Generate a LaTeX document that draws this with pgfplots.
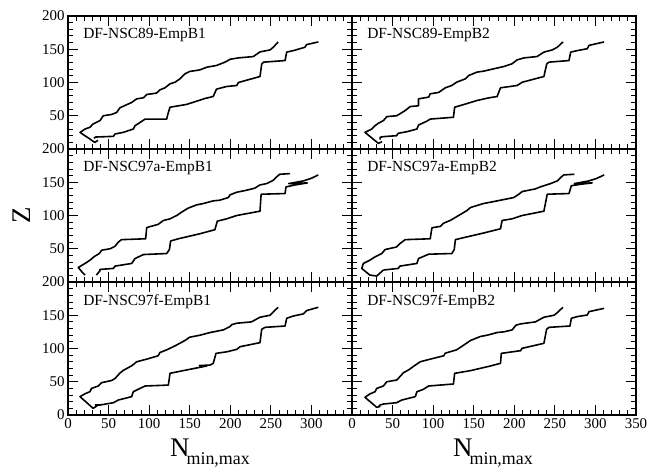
\documentclass[border=0pt]{standalone}
\usepackage{fontspec}
\setmainfont{Liberation Serif}
\usepackage{pgfplots}
\pgfplotsset{compat=1.18}
\pgfplotsset{panel/.style={
  scale only axis, width=284bp, height=133bp,
  xmin=0, xmax=350, ymin=0, ymax=200,
  xtick={0,50,...,350}, ytick={0,50,...,200},
  minor x tick num=4, minor y tick num=4,
  tick align=inside, major tick length=10bp, minor tick length=5bp,
  axis line style={line width=1.2pt},
  every tick/.style={black, line width=0.9pt},
  xticklabels={}, yticklabels={},
  ticklabel style={font=\fontsize{15}{15}\selectfont},
  /pgf/number format/assume math mode=true,
  cycle list={black},
  every axis plot/.append style={line width=1.6pt, no marks, line join=round},
  anchor=south west,
}}
\newcommand{\plabel}[1]{\node[anchor=west, inner sep=0pt, font=\fontsize{15.5}{16}\selectfont] at (rel axis cs:0.053,0.855) {#1};}
\newcommand{\nlab}{{\fontsize{27}{27}\selectfont N}\hspace{-3bp}\raisebox{-8bp}{\fontsize{18}{18}\selectfont min,max}}
\begin{document}
\begin{tikzpicture}
\path[use as bounding box] (0,0) rectangle (665bp,467bp);
% ---------- top left
\begin{axis}[panel, at={(68bp,318bp)}, yticklabels={{},50,100,150,200}]
\addplot coordinates {(259,161)(253,153)(249,149)(236.6,146)(228.4,139)(210,137)(200,135)(193.5,130.6)(183,125.6)(171,123)(162.7,119)(150,116.6)(144,113)(138,105.5)(132,100.5)(125.7,98)(119.5,92)(113.4,89)(109,84)(97,82)(93,77)(84.6,75.4)(78.5,70)(64,62)(60,55)(54,52)(43.5,50)(39.4,42.7)(35,40)(31,37.7)(27,32.7)(21,30)(14.8,25)(33,10)(37,13)};
\addplot coordinates {(32,16)(34,18)(56,19)(58,22.6)(68,25)(80.5,30)(82.6,35)(89,40)(95,45)(121.6,45)(123,52)(125.7,62.8)(146,67)(169,76)(179,79)(183,90)(195.5,94)(208,95.5)(210,100)(236.6,109)(238.8,128)(241,130.6)(267.5,133)(269.5,145.7)(278,148)(292,153)(294,157)(308.5,161)};
\plabel{DF-NSC89-EmpB1}
\end{axis}
% ---------- top right
\begin{axis}[panel, at={(352bp,318bp)}]
\addplot coordinates {(260,161)(253,153)(246.8,149)(236.5,145.7)(228,139)(212,137)(203.5,134)(197,128)(187,124)(174.7,120.6)(162,117)(154,115.6)(144,110.6)(139.7,105.5)(129,100.5)(123,95.5)(115,92)(106.7,85)(96.4,83)(94.4,78)(82,75.4)(82,65)(71.7,63.8)(65.5,57.8)(59,52.8)(55,50)(43,48.7)(38.7,42.7)(32.5,38.7)(28.4,35)(24.3,30)(16,25)(32.5,8.5)(37,11)};
\addplot coordinates {(34.6,14)(34.6,17.6)(38.7,18.6)(55,20)(57,23.6)(67.6,26)(80,30)(82,36)(92,41.7)(96.4,45)(125,47.7)(126.5,62.8)(137.6,66.8)(154,72.9)(168.5,76.9)(178.8,78.9)(183,92)(203.5,95.5)(210,100.5)(236.5,109)(240,128)(242.7,130.6)(267.4,133)(269.5,145.7)(277.7,148)(290,150.8)(292,155.8)(310.7,161)};
\plabel{DF-NSC89-EmpB2}
\end{axis}
% ---------- middle left
\begin{axis}[panel, at={(68bp,185bp)}, yticklabels={{},50,100,150,200}]
\addplot coordinates {(273.6,163)(261,162)(257,158)(253,153)(245,148)(236.6,146)(230,141)(220,138)(208,135)(199.6,131)(197.6,127)(187,123)(179,122)(166.8,118)(158.6,116)(148,111)(140,105)(134,100)(125.7,95)(117.5,92.5)(111,86.6)(99,82.6)(97,81.6)(95.7,65)(66,63.7)(62,60)(58,53.7)(51.8,50)(41.5,47.8)(38.6,42.8)(33,38.8)(27,32.8)(21,27.9)(12.7,21.9)(17,15.4)(21,10.4)};
\addplot coordinates {(35,10.4)(39.4,17)(39.4,18.9)(56,20.4)(58,23.9)(78.5,27.9)(82.6,35.3)(93,41.3)(121.6,42.8)(125,48.8)(126.5,61.7)(136,65)(162.7,72.6)(181,78.6)(184,91.5)(195.6,95)(208,100)(236.6,106.5)(238,132)(267.5,133)(268.7,143)(280,146)(295,149)(272,148)(290,152)(300,156)(308.5,161)};
\plabel{DF-NSC97a-EmpB1}
\end{axis}
% ---------- middle right
\begin{axis}[panel, at={(352bp,185bp)}]
\addplot coordinates {(274,162)(261,161)(257,157)(253,152)(244.7,148)(232,143)(226,140)(209.7,136)(205.6,132)(199.4,127)(183,123)(170.6,120)(162,118)(146,112)(141.7,107.5)(131.4,100)(121,92.5)(113,88.5)(108.8,83.6)(98.5,81.6)(96.4,65)(65.5,63.7)(59,57.7)(55,52.7)(40.8,48.8)(36.7,42.8)(28.4,37.8)(22,32.8)(14,27.9)(12,20.4)(22,10.4)(30.5,9)(38.7,18)};
\addplot coordinates {(38.7,18)(57,20.4)(59,23.9)(80,27.9)(82,35.3)(94.4,41.8)(123,42.8)(126,48.8)(127.4,63.7)(137.6,66.7)(162,73.6)(183,80)(185,92.5)(197.4,95)(209.7,100)(236.5,106.5)(240.6,132)(267.4,133)(270.3,144.8)(282,147)(296,149)(274,148)(292,152)(302,156)(310.7,161)};
\plabel{DF-NSC97a-EmpB2}
\end{axis}
% ---------- bottom left
\begin{axis}[panel, at={(68bp,52bp)}, yticklabels={0,50,100,150,200}, xticklabels={0,50,100,150,200,250,300,{}}]
\addplot coordinates {(259,162)(253,155)(249,150)(236.6,147)(226,140)(208,138)(202,136)(199.7,133)(191.5,128)(175,124)(162.7,120)(150,117)(144,112)(132,104)(121.6,98)(113.4,94)(111,89)(97,84)(84.6,80)(78.5,74)(68,67)(64,63)(58,55)(54,52)(41.5,48.6)(37.4,43.6)(29,40)(27,35)(21,32)(14.8,27.6)(31,10)(36,14)};
\addplot coordinates {(33,15)(39.4,15)(56,18.5)(62,22.5)(70,25)(78.5,27.6)(80.5,35)(88.7,40)(95,43.6)(123.7,45)(125.7,62.7)(146,67.7)(171,73.7)(162,74.5)(175,75)(179,77.7)(182.4,92.7)(195.6,95)(208,98.7)(212,102.7)(236.6,108.8)(238.7,128.8)(242.8,131.8)(267.5,133.8)(269.5,145.4)(277.7,148.9)(290,152)(294,157)(308.5,162)};
\plabel{DF-NSC97f-EmpB1}
\end{axis}
% ---------- bottom right
\begin{axis}[panel, at={(352bp,52bp)}, xticklabels={0,50,100,150,200,250,300,350}]
\addplot coordinates {(260,162)(253,154)(249,150)(236.5,147)(226,140)(207.7,137)(202,135)(197.4,128)(187,125)(178.8,124)(166.5,120)(158,118)(146,112)(137.6,105)(129,98)(115,93)(113,89)(96.4,84)(84,80)(78,75)(69.6,67.7)(63.5,63.7)(59,57.6)(55.2,52.6)(42.8,50)(38.7,43.6)(30.5,40)(28.4,35)(22,31.6)(16,26.6)(30.5,11.5)(35,13)};
\addplot coordinates {(33,13)(34.6,15)(38.7,16.5)(55,18.5)(61.4,22.5)(78,27.6)(80,35)(88,38.6)(94.4,43.6)(125,46.6)(126.5,62.7)(146,66.7)(170.6,73.7)(183,77.7)(184,92.7)(207.7,96.7)(209.7,100.3)(236.5,107.8)(239.8,128.8)(242.7,131.8)(268.6,133.8)(270.3,145.4)(277.7,148)(290,150.4)(292,155.4)(310.7,160.4)};
\plabel{DF-NSC97f-EmpB2}
\end{axis}
\node[anchor=base, inner sep=0pt] at (210bp,11bp) {\nlab};
\node[anchor=base, inner sep=0pt] at (493bp,11bp) {\nlab};
\node[rotate=90, font=\fontsize{27}{27}\selectfont] at (22bp,252bp) {Z};
\end{tikzpicture}
\end{document}
